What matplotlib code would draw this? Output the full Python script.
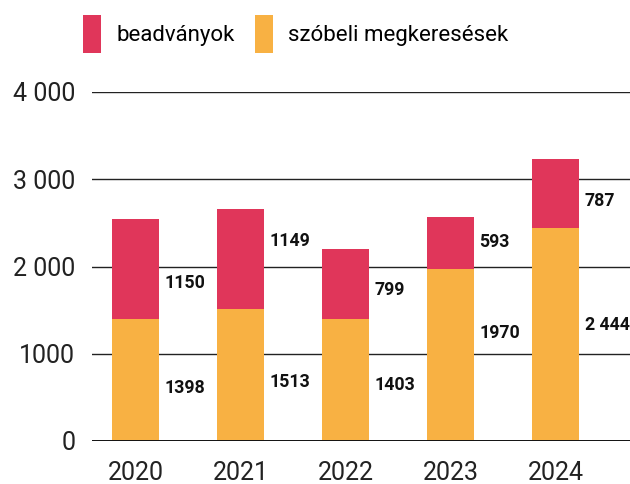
import matplotlib
matplotlib.use("Agg")
import matplotlib.pyplot as plt
import numpy as np

years = ["2020", "2021", "2022", "2023", "2024"]
szobeli = [1398, 1513, 1403, 1970, 2444]
beadvanyok = [1150, 1149, 799, 593, 787]
szobeli_labels = ["1398", "1513", "1403", "1970", "2 444"]
beadvanyok_labels = ["1150", "1149", "799", "593", "787"]
yticks = [0, 1000, 2000, 3000, 4000]
ytick_labels = ["0", "1000", "2 000", "3 000", "4 000"]

# label vertical nudges (data units) to keep labels clear of gridlines
szobeli_nudge = [-90, -80, -60, 250, 105]
bead_nudge = [-160, 205, -75, 15, -85]

RED = "#E0365A"
ORANGE = "#F8B143"

plt.rcParams['font.family'] = ['Roboto', 'DejaVu Sans']

fig = plt.figure(figsize=(6.3, 4.84), dpi=100)
ax = fig.add_axes([92/630, 43/484, 1 - 92/630, (441-92)/484])

x = np.arange(len(years))
w = 0.448
b1 = ax.bar(x, szobeli, width=w, color=ORANGE, label="szóbeli megkeresések", zorder=3)
b2 = ax.bar(x, beadvanyok, width=w, bottom=szobeli, color=RED, label="beadványok", zorder=3)

for i in range(len(years)):
    ax.annotate(szobeli_labels[i], (x[i] + w/2, szobeli[i]/2 + szobeli_nudge[i]),
                xytext=(4, 0), textcoords="offset points", ha="left", va="center",
                fontsize=12.8, fontweight="bold", color="#111111", annotation_clip=False)
    ax.annotate(beadvanyok_labels[i], (x[i] + w/2, szobeli[i] + beadvanyok[i]/2 + bead_nudge[i]),
                xytext=(4, 0), textcoords="offset points", ha="left", va="center",
                fontsize=12.8, fontweight="bold", color="#111111", annotation_clip=False)

ax.set_xlim(-0.414, 4.71)
ax.set_ylim(0, 4000)
ax.set_yticks(yticks)
ax.set_yticklabels(ytick_labels)
ax.set_xticks(x)
ax.set_xticklabels(years)
ax.tick_params(axis="y", length=0, pad=12, labelsize=18, labelcolor="#222222")
ax.tick_params(axis="x", length=0, pad=14.5, labelsize=18, labelcolor="#222222")
for s in ax.spines.values():
    s.set_visible(False)
ax.yaxis.grid(True, color="#222222", linewidth=1.0, zorder=0)
ax.axhline(0, color="#111111", linewidth=1.4, zorder=4)

handles = [b2, b1]
fig.legend(handles, [h.get_label() for h in handles], loc="center",
           bbox_to_anchor=(296/630, 1 - 34/484), ncol=2, frameon=False,
           fontsize=16, handlelength=0.8, handleheight=2.3, handletextpad=0.7,
           columnspacing=0.9, borderaxespad=0)

fig.savefig("out.png", dpi=100)
